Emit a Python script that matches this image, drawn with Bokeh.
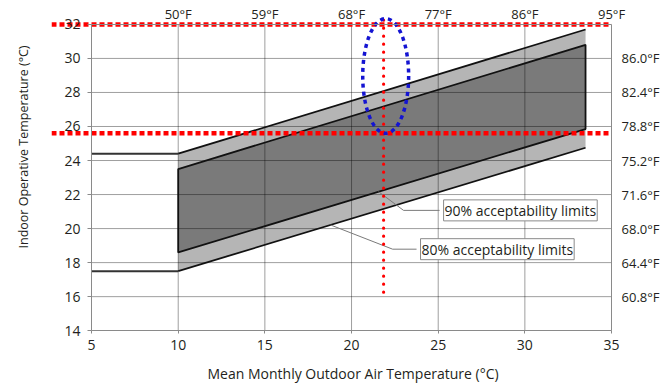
from bokeh.plotting import figure
from bokeh.models import LinearAxis, FixedTicker, Range1d, Label, Title
from bokeh.embed import file_html
from bokeh.resources import INLINE
import numpy as np

# ---- data ----
band_x = [10, 33.5]
limit80_upper = [24.4, 31.7]
limit80_lower = [17.5, 24.75]
limit90_upper = [23.5, 30.8]
limit90_lower = [18.6, 25.85]
flat_x = [5, 10]
flat_upper = [24.4, 24.4]
flat_lower = [17.5, 17.5]

x_ticks = [5, 10, 15, 20, 25, 30, 35]
y_ticks = [14, 16, 18, 20, 22, 24, 26, 28, 30, 32]
top_ticks = [10, 15, 20, 25, 30, 35]
top_labels = ["50°F", "59°F", "68°F", "77°F", "86°F", "95°F"]
right_ticks = [16, 18, 20, 22, 24, 26, 28, 30]
right_labels = ["60.8°F", "64.4°F", "68.0°F", "71.6°F", "75.2°F", "78.8°F", "82.4°F", "86.0°F"]

x_title = "Mean Monthly Outdoor Air Temperature (°C)"
y_title = "Indoor Operative Temperature (°C)"

# highlight marks
highlight_levels = [32, 25.6]
highlight_x_span = [2.69, 35.0]
highlight_x = 21.85
highlight_y_span = [32.25, 15.9]
ellipse_x = [21.97]
ellipse_y = [28.97]
ellipse_w = [2.65]
ellipse_h = [6.75]

label90 = "90% acceptability limits"
label80 = "80% acceptability limits"
label90_pos = (25.31, 21.07)
label80_pos = (23.98, 18.79)
leader90_start = 25.08
leader90_knee = 23.0
leader90_end_x = 21.56
leader80_start = 23.75
leader80_knee = 22.37
leader80_end_x = 18.79

FONT = "Open Sans"
TXT = "#231f20"
AX = "#8a8a8a"
X0, X1, Y0, Y1 = 5, 35, 14, 32

p = figure(width=662, height=383, x_range=Range1d(2.69, 37.94), y_range=Range1d(12.13, 33.052),
           output_backend="svg", toolbar_location=None,
           min_border_left=51, min_border_right=0, min_border_top=6, min_border_bottom=19)
p.title.visible = False
p.background_fill_color = "white"
p.border_fill_color = "white"
p.outline_line_color = None
p.xgrid.visible = False
p.ygrid.visible = False

# bands
p.patch(band_x + band_x[::-1], limit80_upper + limit80_lower[::-1],
        fill_color="#b5b5b5", line_color=None)
p.patch(band_x + band_x[::-1], limit90_upper + limit90_lower[::-1],
        fill_color="#7a7a7a", line_color=None)

# grid lines (over the bands, inside the 5..35 x 14..32 box)
gx = [t for t in x_ticks if X0 < t < X1]
gy = [t for t in y_ticks if Y0 < t < Y1]
p.segment(x0=gx, y0=[Y0] * len(gx), x1=gx, y1=[Y1] * len(gx),
          line_color="black", line_alpha=0.38, line_width=1)
p.segment(x0=[X0] * len(gy), y0=gy, x1=[X1] * len(gy), y1=gy,
          line_color="black", line_alpha=0.38, line_width=1)

# band outlines
p.patch(band_x + band_x[::-1], limit90_upper + limit90_lower[::-1],
        fill_alpha=0, line_color="#111111", line_width=1.8)
p.line(band_x, limit80_upper, line_color="#111111", line_width=1.8)
p.line(band_x, limit80_lower, line_color="#111111", line_width=1.8)
p.line(flat_x, flat_upper, line_color="#333333", line_width=2)
p.line(flat_x, flat_lower, line_color="#333333", line_width=2)

# leader lines
y90 = float(np.interp(leader90_end_x, band_x, limit90_lower))
p.line([leader90_start, leader90_knee, leader90_end_x], [label90_pos[1], label90_pos[1], y90],
       line_color="#7a7a7a", line_width=1)
y80 = float(np.interp(leader80_end_x, band_x, limit80_lower))
p.line([leader80_start, leader80_knee, leader80_end_x], [label80_pos[1], label80_pos[1], y80],
       line_color="#7a7a7a", line_width=1)

# axes
def style_axis(ax, size, standoff, tick_out):
    ax.axis_line_color = AX
    ax.major_tick_line_color = AX
    ax.major_tick_out = tick_out
    ax.major_tick_in = 0
    ax.minor_tick_line_color = None
    ax.major_label_text_font = FONT
    ax.major_label_text_font_size = size
    ax.major_label_text_color = TXT
    ax.major_label_standoff = standoff

bx = p.below[0]
bx.ticker = FixedTicker(ticks=x_ticks)
bx.bounds = (X0, X1)
bx.fixed_location = Y0
style_axis(bx, "14px", 6, 3)

ly = p.left[0]
ly.ticker = FixedTicker(ticks=y_ticks)
ly.bounds = (Y0, Y1)
ly.fixed_location = X0
style_axis(ly, "14px", 7, 4)

top = LinearAxis(ticker=FixedTicker(ticks=top_ticks), bounds=(X0, X1), fixed_location=Y1,
                 major_label_overrides={t: l for t, l in zip(top_ticks, top_labels)})
style_axis(top, "13px", 1, 0)
p.add_layout(top, "above")

right = LinearAxis(ticker=FixedTicker(ticks=right_ticks), bounds=(Y0, Y1), fixed_location=X1,
                   major_label_overrides={t: l for t, l in zip(right_ticks, right_labels)})
style_axis(right, "13px", 10, 0)
p.add_layout(right, "right")

# axis titles
p.add_layout(Title(text=x_title, align="left", offset=156, standoff=0, vertical_align="middle",
                   text_font=FONT, text_font_size="14px", text_font_style="normal",
                   text_color=TXT), "below")
# spacer between the frame and the y title
p.add_layout(Title(text=" ", standoff=0, text_font=FONT, text_font_size="12.5px",
                   text_font_style="normal"), "left")
p.add_layout(Title(text=y_title, align="left", offset=114, standoff=0, vertical_align="middle",
                   text_font=FONT, text_font_size="12.5px", text_font_style="normal",
                   text_color=TXT), "left")

# labels
for txt, pos in ((label90, label90_pos), (label80, label80_pos)):
    p.add_layout(Label(x=pos[0], y=pos[1], text=txt, text_font=FONT, text_font_size="14px",
                       text_color=TXT, text_baseline="middle", text_align="left",
                       border_line_color="#8a8a8a", border_line_width=1,
                       background_fill_color="white", padding=1))

# highlight marks
for lev in highlight_levels:
    p.line(highlight_x_span, [lev, lev], line_color="#ff0000", line_width=4.5, line_dash="5 3")
p.line([highlight_x, highlight_x], highlight_y_span, line_color="#ff0000", line_width=3.2,
       line_dash="0 8", line_cap="round")
p.ellipse(x=ellipse_x, y=ellipse_y, width=ellipse_w, height=ellipse_h, fill_alpha=0,
          line_color="#1414d2", line_width=3.5, line_dash="4 4")

open("out.html", "w").write(file_html(p, INLINE))
